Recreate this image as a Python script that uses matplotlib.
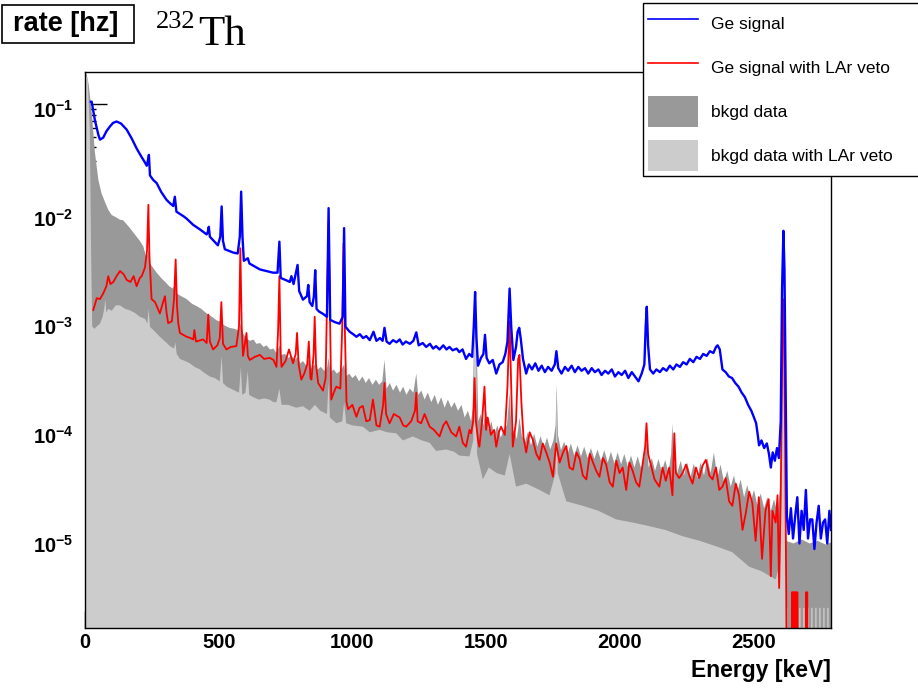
import numpy as np
import matplotlib
matplotlib.use('Agg')
import matplotlib.pyplot as plt
from matplotlib.ticker import MultipleLocator, LogLocator, FuncFormatter, NullFormatter
from matplotlib.patches import Rectangle, Patch
from matplotlib.lines import Line2D
from matplotlib.font_manager import FontProperties
from matplotlib.transforms import ScaledTranslation

# ---------------- data ----------------
x_ticks = [0, 500, 1000, 1500, 2000, 2500]
x_tick_labels = ['0', '500', '1000', '1500', '2000', '2500']
legend_labels = ['Ge signal', 'Ge signal with LAr veto', 'bkgd data', 'bkgd data with LAr veto']

# Ge signal (blue)
ge_energy = [22, 25, 37, 50, 56, 68, 80, 93, 105, 118, 135, 156, 175, 193, 210, 224, 231, 235, 239, 243,
             255, 268, 285, 305, 318, 330, 336, 342, 370, 380, 405, 430, 455, 459, 463, 467, 497, 506, 511, 516,
             523, 553, 571, 579, 584, 589, 594, 609, 615, 654, 703, 720, 727, 732, 750, 766, 772, 780, 795, 801,
             815, 830, 835, 840, 850, 856, 861, 866, 875, 890, 905, 911, 917, 935, 952, 964, 969, 974,
             990, 1003, 1015, 1028, 1040, 1052, 1065, 1079, 1090, 1103, 1113, 1120, 1128, 1139, 1152, 1165,
             1177, 1188, 1200, 1215, 1228, 1239, 1248, 1263, 1276, 1290, 1302, 1313, 1326, 1340, 1352, 1363,
             1375, 1390, 1400, 1412, 1425, 1437, 1448, 1454, 1459, 1464, 1470, 1481, 1490, 1496, 1502, 1512,
             1525, 1538, 1550, 1562, 1572, 1580, 1588, 1594, 1602, 1612, 1618, 1624, 1630, 1638, 1650, 1660,
             1672, 1684, 1696, 1708, 1720, 1732, 1745, 1757, 1763, 1770, 1782, 1795, 1807, 1820, 1832, 1845,
             1857, 1870, 1882, 1895, 1907, 1920, 1932, 1945, 1957, 1970, 1982, 1995, 2007, 2020, 2032, 2045,
             2057, 2070, 2082, 2092, 2097, 2101, 2106, 2113, 2125, 2137, 2150, 2162, 2175, 2187, 2200, 2212,
             2225, 2237, 2250, 2262, 2275, 2287, 2300, 2312, 2325, 2337, 2350, 2360, 2366, 2374, 2384, 2396,
             2408, 2420, 2432, 2444, 2456, 2468, 2480, 2492, 2502, 2510, 2516, 2521, 2530, 2540, 2550, 2558,
             2565, 2572, 2580, 2588, 2595, 2602, 2607, 2612, 2616, 2620, 2625,
             2632, 2640, 2648, 2656, 2664, 2672, 2680, 2688, 2696, 2704, 2712, 2720, 2728, 2736, 2744, 2752,
             2760, 2768, 2776, 2784, 2790]
ge_rate = [0.105, 0.105, 0.071, 0.052, 0.047, 0.049, 0.056, 0.062, 0.067, 0.069, 0.066, 0.058, 0.048, 0.039,
           0.033, 0.029, 0.027, 0.030, 0.034, 0.022,
           0.020, 0.0187, 0.0155, 0.0131, 0.0122, 0.0115, 0.0140, 0.0102, 0.0092, 0.0088, 0.0077, 0.0070,
           0.0063, 0.0066, 0.0074, 0.0060, 0.0050, 0.0060, 0.0114, 0.0055,
           0.0046, 0.0043, 0.0042, 0.0060, 0.0156, 0.0060, 0.0036, 0.0038, 0.0034, 0.0030, 0.0028, 0.0028,
           0.0054, 0.0025, 0.0024, 0.0023, 0.0026, 0.0022, 0.0033, 0.0019,
           0.00158, 0.0017, 0.00216, 0.0015, 0.00138, 0.0017, 0.00295, 0.0013, 0.00123, 0.00117, 0.0011,
           0.0110, 0.00103, 0.00098, 0.00095, 0.0011, 0.0072, 0.00089,
           0.00080, 0.00076, 0.00072, 0.00076, 0.00070, 0.00073, 0.00067, 0.00080, 0.00066, 0.00070, 0.00066,
           0.00087, 0.00065, 0.00062, 0.00067, 0.00064,
           0.00068, 0.00061, 0.00065, 0.00062, 0.00066, 0.00079, 0.00060, 0.00063, 0.00058, 0.00062, 0.00056,
           0.00059, 0.00055, 0.00060, 0.00055, 0.00058,
           0.00054, 0.00056, 0.00052, 0.00055, 0.00045, 0.00050, 0.00047, 0.00090, 0.00186, 0.00070, 0.00039,
           0.00046, 0.00050, 0.00075, 0.00046, 0.00041,
           0.00044, 0.00033, 0.00040, 0.00042, 0.00050, 0.00065, 0.00200, 0.00090, 0.00044, 0.00058, 0.00080,
           0.00087, 0.00068, 0.00045, 0.00033, 0.00040,
           0.00036, 0.00041, 0.00035, 0.00039, 0.00034, 0.00038, 0.00035, 0.00040, 0.00053, 0.00037, 0.00033,
           0.00038, 0.00035, 0.00039, 0.00034, 0.00038,
           0.00035, 0.00037, 0.00033, 0.00037, 0.00034, 0.00036, 0.00032, 0.00035, 0.00033, 0.00036, 0.00031,
           0.00034, 0.00032, 0.00035, 0.00030, 0.00034,
           0.00031, 0.00028, 0.00033, 0.00040, 0.00090, 0.00136, 0.00060, 0.00036, 0.00033, 0.00036, 0.00034,
           0.00037, 0.00035, 0.00039, 0.00036, 0.00040,
           0.00038, 0.00042, 0.00040, 0.00045, 0.00042, 0.00047, 0.00045, 0.00050, 0.00048, 0.00053, 0.00051,
           0.00058, 0.00060, 0.00055, 0.00036, 0.00034,
           0.00031, 0.00030, 0.00027, 0.00025, 0.00022, 0.00020, 0.00017, 0.00015, 0.00013, 0.000115,
           0.000090, 0.000072, 0.000080, 0.000068, 0.000075, 0.000060,
           0.000045, 0.000062, 0.000052, 0.000068, 0.000055, 0.000120, 0.0020, 0.0068, 0.0030, 0.00030,
           0.000016,
           1.1e-5, 1.9e-5, 1.0e-5, 1.6e-5, 2.4e-5, 9e-6, 1.8e-5, 1.2e-5, 2.8e-5, 1.0e-5, 1.5e-5, 1.5e-5,
           8e-6, 1.4e-5, 2.0e-5, 1.0e-5, 1.4e-5, 1.5e-5, 9e-6, 1.8e-5, 1.2e-5]

# Ge signal with LAr veto (red)
veto_energy = [31, 44, 56, 68, 80, 87, 95, 106, 118, 131, 145, 156, 170, 182, 193, 205, 212, 224, 232, 237,
               241, 249, 262, 280, 292, 299, 305, 311, 325, 333, 339, 344, 349, 355, 380, 395, 405, 409, 415,
               442, 455, 461, 467, 479, 495, 504, 510, 516, 529, 545, 566, 576, 581, 586, 591, 604, 609, 616,
               635, 654, 670, 691, 705, 716, 722, 727, 732, 735, 750, 763, 778, 788, 793, 799, 809, 820, 831,
               837, 843, 847, 855, 859, 864, 872, 890, 900, 906, 911, 916, 921, 930, 940, 955, 962, 967, 972,
               978, 984, 1000, 1015, 1027, 1039, 1052, 1065, 1077, 1090, 1102, 1115, 1120, 1126, 1139, 1155,
               1177, 1190, 1201, 1220, 1234, 1239, 1244, 1257, 1270, 1289, 1305, 1326, 1340, 1351, 1370, 1388,
               1400, 1413, 1425, 1438, 1444, 1452, 1457, 1462, 1470, 1475, 1485, 1494, 1500, 1506, 1518, 1530,
               1538, 1548, 1556, 1570, 1580, 1588, 1594, 1600, 1612, 1620, 1625, 1632, 1640, 1650, 1663, 1675,
               1688, 1700, 1712, 1725, 1738, 1750, 1762, 1775, 1788, 1800, 1812, 1825, 1838, 1850, 1862, 1875,
               1888, 1900, 1912, 1924, 1937, 1949, 1962, 1974, 1987, 1999, 2011, 2024, 2036, 2048, 2061, 2073,
               2085, 2095, 2100, 2106, 2117, 2130, 2148, 2160, 2172, 2185, 2197, 2204, 2210, 2222, 2235, 2248,
               2260, 2272, 2285, 2297, 2310, 2322, 2335, 2347, 2360, 2372, 2384, 2396, 2409, 2421, 2434, 2446,
               2459, 2471, 2484, 2496, 2508, 2520, 2532, 2545, 2557, 2565, 2571, 2583, 2590, 2596, 2602, 2606,
               2610, 2614, 2618, 2622, 2626, 2643, 2644, 2646, 2648, 2650, 2652, 2654, 2656, 2658, 2660, 2662,
               2664, 2666, 2696, 2697, 2699, 2701, 2703, 2705, 2790]
veto_rate = [0.00127, 0.00163, 0.0016, 0.0018, 0.0021, 0.0026, 0.0022, 0.0023, 0.0026, 0.0029, 0.0027, 0.0024,
             0.0023, 0.0026, 0.0021, 0.0025, 0.0026, 0.0031, 0.0045, 0.0118,
             0.0040, 0.0016, 0.0015, 0.00118, 0.0015, 0.0017, 0.0012, 0.00096, 0.0010, 0.0016, 0.0037, 0.0014,
             0.00095, 0.00078, 0.00072, 0.00070, 0.00068, 0.00083, 0.00065,
             0.00068, 0.00063, 0.00115, 0.00065, 0.00055, 0.00060, 0.00070, 0.0015, 0.00062, 0.00055, 0.00058,
             0.00059, 0.0009, 0.0047, 0.0009, 0.00048, 0.00078, 0.00048, 0.00044,
             0.00047, 0.00049, 0.00045, 0.00046, 0.00044, 0.00038, 0.0008, 0.0026, 0.0005, 0.00038, 0.00043,
             0.00055, 0.00041, 0.0005, 0.00078, 0.0004, 0.00029, 0.00033, 0.0004,
             0.00065, 0.0003, 0.00029, 0.0005, 0.0011, 0.0004, 0.00027, 0.00023, 0.0003, 0.002, 0.0083, 0.0012,
             0.00019, 0.00022, 0.00025, 0.00024, 0.0009, 0.0052, 0.0008,
             0.00018, 0.000155, 0.00017, 0.000132, 0.00016, 0.000166, 0.00012, 0.000123, 0.00019, 0.00011,
             0.000107, 0.00017, 0.00027, 0.00014, 0.000115, 0.00014,
             0.00013, 0.00011, 0.000107, 0.00012, 0.00015, 0.00022, 0.00012, 0.000115, 0.00014, 0.000107,
             0.0001, 0.000087, 0.00011, 0.00012, 0.000095, 0.000087,
             0.000107, 0.000076, 0.00007, 0.0001, 0.000093, 0.00012, 0.0003, 0.00012, 0.00008, 0.00007,
             0.00012, 0.00025, 0.0001, 0.00013, 0.00009, 0.0001,
             0.00007, 0.000095, 0.000107, 0.00009, 0.00025, 0.0010, 0.00025, 0.00007, 0.00012, 0.00045,
             0.00049, 0.00018, 0.000085, 0.000062, 0.000095, 0.000081,
             0.00006, 0.000053, 0.000075, 0.000062, 0.00005, 0.000037, 0.000075, 0.00005, 0.000062, 0.000071,
             0.000045, 0.000043, 0.000062, 0.000054, 0.000038, 0.000035,
             0.00006, 0.00005, 0.000042, 0.000037, 0.000055, 0.000048, 0.000033, 0.00003, 0.000052, 0.00004,
             0.000045, 0.000028, 0.00005, 0.000042, 0.000033, 0.00003,
             0.000048, 0.00007, 0.000115, 0.00006, 0.000047, 0.000035, 0.00003, 0.000045, 0.000034, 0.000045,
             0.000025, 0.000093, 0.00004, 0.000036, 0.00004, 0.000048,
             0.000038, 0.000032, 0.000045, 0.000036, 0.000047, 0.000053, 0.000038, 0.000035, 0.000045,
             0.000028, 0.00003, 0.000036, 0.000022, 0.00002, 0.000032, 0.000025,
             0.000012, 0.000017, 0.000027, 0.000021, 0.0000095, 0.000024, 0.0000065, 0.000018, 0.000023,
             0.0000045, 0.000018, 0.000014, 0.000025, 0.0000035, 0.000025, 0.0002,
             0.0016, 0.0012, 0.0001, 0.000005, 1e-7, 1e-7, 3.2e-6, 1e-7, 3.2e-6, 1e-7, 3.2e-6, 1e-7, 3.2e-6,
             1e-7, 3.2e-6, 1e-7,
             3.2e-6, 1e-7, 1e-7, 3.2e-6, 1e-7, 3.2e-6, 1e-7, 1e-7, 1e-7]

# bkgd data (dark grey fill)
bkgd_energy = [0, 6, 14, 25, 37, 50, 62, 75, 87, 100, 118, 131, 143, 156, 168, 180, 193, 205, 218, 230, 235,
               239, 243, 255, 268, 285, 300, 315, 328, 338, 344, 360, 380, 400, 417, 435, 455, 470, 492, 510,
               520, 540, 560, 575, 583, 590, 604, 618, 630, 641, 655, 668, 679, 692, 705, 716, 727, 735, 748,
               760, 772, 785, 795, 805, 815, 828, 837, 846, 860, 870, 882, 895, 905, 911, 918, 930, 942, 955,
               969, 976, 988, 1000, 1012, 1025, 1038, 1050, 1062, 1075, 1088, 1100, 1112, 1120, 1128, 1140,
               1152, 1165, 1178, 1190, 1202, 1215, 1228, 1239, 1246, 1258, 1270, 1282, 1295, 1308, 1320, 1332,
               1345, 1357, 1370, 1382, 1395, 1408, 1420, 1432, 1444, 1450, 1455, 1460, 1465, 1471, 1480, 1490,
               1500, 1510, 1520, 1530, 1542, 1555, 1566, 1578, 1588, 1596, 1606, 1615, 1625, 1634, 1645, 1656,
               1668, 1680, 1692, 1704, 1716, 1728, 1740, 1752, 1760, 1764, 1769, 1780, 1792, 1805, 1817, 1830,
               1842, 1855, 1867, 1880, 1892, 1905, 1917, 1930, 1942, 1955, 1967, 1980, 1992, 2005, 2017, 2030,
               2042, 2055, 2067, 2080, 2092, 2100, 2108, 2120, 2132, 2145, 2157, 2170, 2182, 2192, 2197, 2203,
               2215, 2228, 2240, 2252, 2265, 2277, 2290, 2302, 2315, 2327, 2340, 2352, 2365, 2377, 2390, 2402,
               2415, 2427, 2440, 2452, 2465, 2477, 2490, 2502, 2515, 2527, 2540, 2552, 2565, 2577, 2590, 2600,
               2606, 2611, 2615, 2619, 2623, 2650, 2680, 2710, 2740, 2770, 2790]
bkgd_rate = [0.19, 0.19, 0.15, 0.085, 0.036, 0.020, 0.015, 0.0125, 0.0106, 0.0095, 0.0090, 0.0086, 0.0085,
             0.0078, 0.0072, 0.0066, 0.0060, 0.0055, 0.0049, 0.0038, 0.0042,
             0.0045, 0.0034, 0.0031, 0.0028, 0.0025, 0.0023, 0.0021, 0.0020, 0.0022, 0.0018, 0.0017, 0.0016,
             0.00145, 0.00138, 0.0013, 0.00118, 0.00112, 0.00102, 0.00098,
             0.00092, 0.00087, 0.00085, 0.00082, 0.00095, 0.00078, 0.00069, 0.00066, 0.00068, 0.00062, 0.00063,
             0.00058, 0.00060, 0.00055, 0.00056, 0.00051, 0.00060, 0.00049, 0.00050,
             0.00046, 0.00048, 0.00044, 0.00047, 0.00041, 0.00043, 0.00039, 0.00044, 0.00037, 0.00040, 0.00036,
             0.00038, 0.00035, 0.00037, 0.00046, 0.00034, 0.00036, 0.00033, 0.00035,
             0.00040, 0.00031, 0.00033, 0.00030, 0.00032, 0.00028, 0.00031, 0.00027, 0.00030, 0.00026, 0.00029,
             0.00026, 0.00028, 0.00044, 0.00024, 0.00027,
             0.00023, 0.00026, 0.00022, 0.00025, 0.00021, 0.00024, 0.00022, 0.00033, 0.00021, 0.00023, 0.00019,
             0.00022, 0.00018, 0.00021, 0.00017, 0.00020,
             0.00016, 0.00019, 0.00016, 0.00018, 0.00015, 0.00017, 0.00013, 0.00015, 0.00012, 0.00016, 0.00070,
             0.00190, 0.00060, 0.00012, 0.00014, 0.00011,
             0.00015, 0.00010, 0.00012, 0.000088, 0.00011, 0.000085, 0.00010, 0.00011, 0.00022, 0.000095,
             0.00010, 0.000082, 0.00013, 0.000088, 0.000076, 0.000095,
             0.000072, 0.000092, 0.000070, 0.000088, 0.000068, 0.000085, 0.000066, 0.000080, 0.00011, 0.00026,
             0.00009, 0.000065, 0.000078, 0.000060, 0.000075, 0.000058,
             0.000072, 0.000057, 0.000070, 0.000055, 0.000068, 0.000054, 0.000066, 0.000052, 0.000065,
             0.000050, 0.000063, 0.000049, 0.000062, 0.000048, 0.000060, 0.000046,
             0.000058, 0.000045, 0.000057, 0.000044, 0.000056, 0.000080, 0.000045, 0.000055, 0.000042,
             0.000054, 0.000041, 0.000053, 0.000040, 0.000060, 0.000115, 0.000050,
             0.000040, 0.000052, 0.000038, 0.000050, 0.000037, 0.000049, 0.000036, 0.000050, 0.000038,
             0.000055, 0.000040, 0.000062, 0.000036, 0.000048, 0.000033, 0.000042,
             0.000030, 0.000038, 0.000027, 0.000035, 0.000024, 0.000031, 0.000022, 0.000028, 0.000020,
             0.000026, 0.000019, 0.000024, 0.000018, 0.000023, 0.000017, 0.000030,
             0.00020, 0.0015, 0.0012, 0.00010, 0.0000095, 0.0000090, 0.0000098, 0.0000090, 0.0000095,
             0.0000088, 0.0000092]

# bkgd data with LAr veto (light grey fill)
bkgdveto_energy = [0, 10, 18, 23, 27, 35, 45, 56, 66, 72, 76, 80, 87, 100, 115, 131, 150, 168, 185, 205, 225,
                   233, 238, 243, 262, 280, 300, 318, 333, 338, 343, 355, 375, 392, 410, 430, 450, 467, 485,
                   504, 511, 516, 530, 545, 560, 576, 583, 588, 600, 609, 614, 629, 650, 670, 690, 705, 716,
                   727, 735, 760, 790, 815, 840, 860, 880, 905, 911, 916, 940, 962, 969, 977, 1000, 1039, 1065,
                   1102, 1130, 1164, 1189, 1226, 1260, 1289, 1313, 1351, 1380, 1400, 1438, 1452, 1458, 1462,
                   1466, 1488, 1510, 1540, 1570, 1588, 1612, 1650, 1700, 1737, 1760, 1764, 1768, 1800, 1862,
                   1920, 1986, 2050, 2110, 2170, 2235, 2300, 2359, 2420, 2484, 2530, 2583, 2600, 2606, 2611,
                   2615, 2619, 2623, 2627, 2628,
                   2640, 2641, 2646, 2647, 2655, 2656, 2661, 2662, 2670, 2671, 2676, 2677,
                   2685, 2686, 2691, 2692, 2700, 2701, 2706, 2707, 2715, 2716, 2721, 2722,
                   2730, 2731, 2736, 2737, 2745, 2746, 2751, 2752, 2760, 2761, 2766, 2767,
                   2775, 2776, 2781, 2782, 2790]
bkgdveto_rate = [0.19, 0.17, 0.06, 0.004, 0.0009, 0.00085, 0.0009, 0.00095, 0.0011, 0.0013, 0.0016, 0.0012,
                 0.0013, 0.00125, 0.0014, 0.0014, 0.0013, 0.00126, 0.0012, 0.0011, 0.00105,
                 0.00095, 0.0013, 0.00089, 0.0008, 0.00072, 0.00065, 0.00059, 0.00056, 0.00064, 0.0005,
                 0.00045, 0.00043, 0.00041, 0.00038, 0.00036, 0.00033, 0.00031, 0.00030,
                 0.00028, 0.00048, 0.00027, 0.00025, 0.00024, 0.00023, 0.00022, 0.00038, 0.00021, 0.00022,
                 0.00035, 0.00021, 0.00020, 0.00019, 0.000195, 0.00019, 0.00018, 0.00018,
                 0.00024, 0.00017, 0.00017, 0.00016, 0.000165, 0.00015, 0.00017, 0.00015, 0.00014, 0.00028,
                 0.00013, 0.000115, 0.00012, 0.00018, 0.000115, 0.00011, 0.000107, 0.000095,
                 0.00010, 0.000095, 0.000093, 0.000080, 0.000087, 0.000080, 0.000076, 0.000064, 0.000066,
                 0.000063, 0.000058, 0.000057, 0.000080, 0.0017, 0.0015,
                 0.000060, 0.000035, 0.000045, 0.000040, 0.000038, 0.000060, 0.000030, 0.000032, 0.000028,
                 0.000025, 0.000040, 0.00025, 0.000040, 0.000022, 0.000020,
                 0.000018, 0.000015, 0.000014, 0.000013, 0.000012, 0.0000105, 0.0000095, 0.0000085, 0.0000075,
                 0.0000055, 0.0000050, 0.0000042, 0.0000060, 0.00015, 0.0014,
                 0.0011, 0.000030, 0.0000023, 0.0000023, 1e-7,
                 1e-7, 2.3e-6, 2.3e-6, 1e-7, 1e-7, 2.3e-6, 2.3e-6, 1e-7, 1e-7, 2.3e-6, 2.3e-6, 1e-7,
                 1e-7, 2.3e-6, 2.3e-6, 1e-7, 1e-7, 2.3e-6, 2.3e-6, 1e-7, 1e-7, 2.3e-6, 2.3e-6, 1e-7,
                 1e-7, 2.3e-6, 2.3e-6, 1e-7, 1e-7, 2.3e-6, 2.3e-6, 1e-7, 1e-7, 2.3e-6, 2.3e-6, 1e-7,
                 1e-7, 2.3e-6, 2.3e-6, 1e-7, 1e-7]

# ---------------- figure ----------------
W, H = 918, 689
fig = plt.figure(figsize=(W / 100, H / 100), dpi=100)
ax = fig.add_axes([85 / W, 1 - 628 / H, (831 - 85) / W, (628 - 72) / H])
ax.set_yscale('log')
ax.set_xlim(0, 2790)
ax.set_ylim(1.5e-6, 0.197)

FLOOR = 1e-9
ax.fill_between(bkgd_energy, FLOOR, bkgd_rate, color='#999999', lw=0, zorder=1)
ax.fill_between(bkgdveto_energy, FLOOR, bkgdveto_rate, color='#cccccc', lw=0, zorder=2)
ax.plot(veto_energy, veto_rate, color='#ff0000', lw=1.3, zorder=3)
ax.plot(ge_energy, ge_rate, color='#0000ff', lw=1.7, zorder=4)

for sp in ax.spines.values():
    sp.set_linewidth(1.0)
    sp.set_color('black')
    sp.set_zorder(6)

tick_font = FontProperties(family=['Liberation Sans', 'DejaVu Sans'], weight='bold', size=14.5)
ax.set_xticks(x_ticks)
ax.set_xticklabels(x_tick_labels)
ax.xaxis.set_minor_locator(MultipleLocator(100))
ax.yaxis.set_major_locator(LogLocator(base=10, numticks=20))
ax.yaxis.set_minor_locator(LogLocator(base=10, subs=np.arange(2, 10), numticks=20))
ax.yaxis.set_minor_formatter(NullFormatter())
ax.yaxis.set_major_formatter(FuncFormatter(
    lambda v, p: r'$\mathregular{10^{%d}}$' % int(round(np.log10(v)))))
ax.tick_params(axis='y', which='major', direction='in', length=16, width=1, pad=8.5, left=True, right=False)
ax.tick_params(axis='y', which='minor', direction='in', length=8, width=1, left=True, right=False)
ax.tick_params(axis='x', which='major', direction='in', length=12, width=1, pad=3.5, top=False)
ax.tick_params(axis='x', which='minor', direction='in', length=6, width=1, top=False)
ax.set_axisbelow(True)
for lbl in ax.get_xticklabels() + ax.get_yticklabels():
    lbl.set_fontproperties(tick_font)
for t in ax.yaxis.get_major_ticks():
    t.label1.set_transform(t.label1.get_transform() + ScaledTranslation(0, -5 / 100, fig.dpi_scale_trans))

ax.set_xlabel('Energy [keV]', fontproperties=FontProperties(
    family=['Liberation Sans', 'DejaVu Sans'], weight='bold', size=16.5))
ax.xaxis.set_label_coords(1.0, -(670 - 628) / (628 - 72))
ax.xaxis.label.set_horizontalalignment('right')
ax.xaxis.label.set_verticalalignment('center')

# title box "rate [hz]"
fig.patches.append(Rectangle((2 / W, 1 - 43 / H), 132 / W, 38 / H, transform=fig.transFigure,
                             facecolor='white', edgecolor='black', lw=1.2, zorder=10))
fig.text(66 / W, 1 - 24 / H, 'rate [hz]', ha='center', va='center', fontsize=19.5,
         family=['Liberation Sans', 'DejaVu Sans'], weight='bold', zorder=11)
fig.text(156 / W, 1 - 22 / H, '232', ha='left', va='center', fontsize=19,
         family=['Liberation Serif', 'DejaVu Serif'])
fig.text(198 / W, 1 - 35 / H, 'Th', ha='left', va='center', fontsize=31,
         family=['Liberation Serif', 'DejaVu Serif'])

# legend
handles = [Line2D([], [], color='#0000ff', lw=1.2),
           Line2D([], [], color='#ff0000', lw=1.2),
           Patch(facecolor='#999999', edgecolor='none'),
           Patch(facecolor='#cccccc', edgecolor='none')]
leg = fig.legend(handles, legend_labels, loc='upper left',
                 bbox_to_anchor=(643 / W, 1 - 3 / H, 300 / W, 0), bbox_transform=fig.transFigure,
                 mode='expand', frameon=True, fancybox=False, framealpha=1, edgecolor='black',
                 borderaxespad=0, handlelength=2.87, handleheight=2.4, handletextpad=0.75,
                 labelspacing=0.72, borderpad=0.3,
                 prop=FontProperties(family=['Liberation Sans', 'DejaVu Sans'], size=12.5))
leg.get_frame().set_linewidth(1.0)

fig.savefig('out.png', dpi=100)
